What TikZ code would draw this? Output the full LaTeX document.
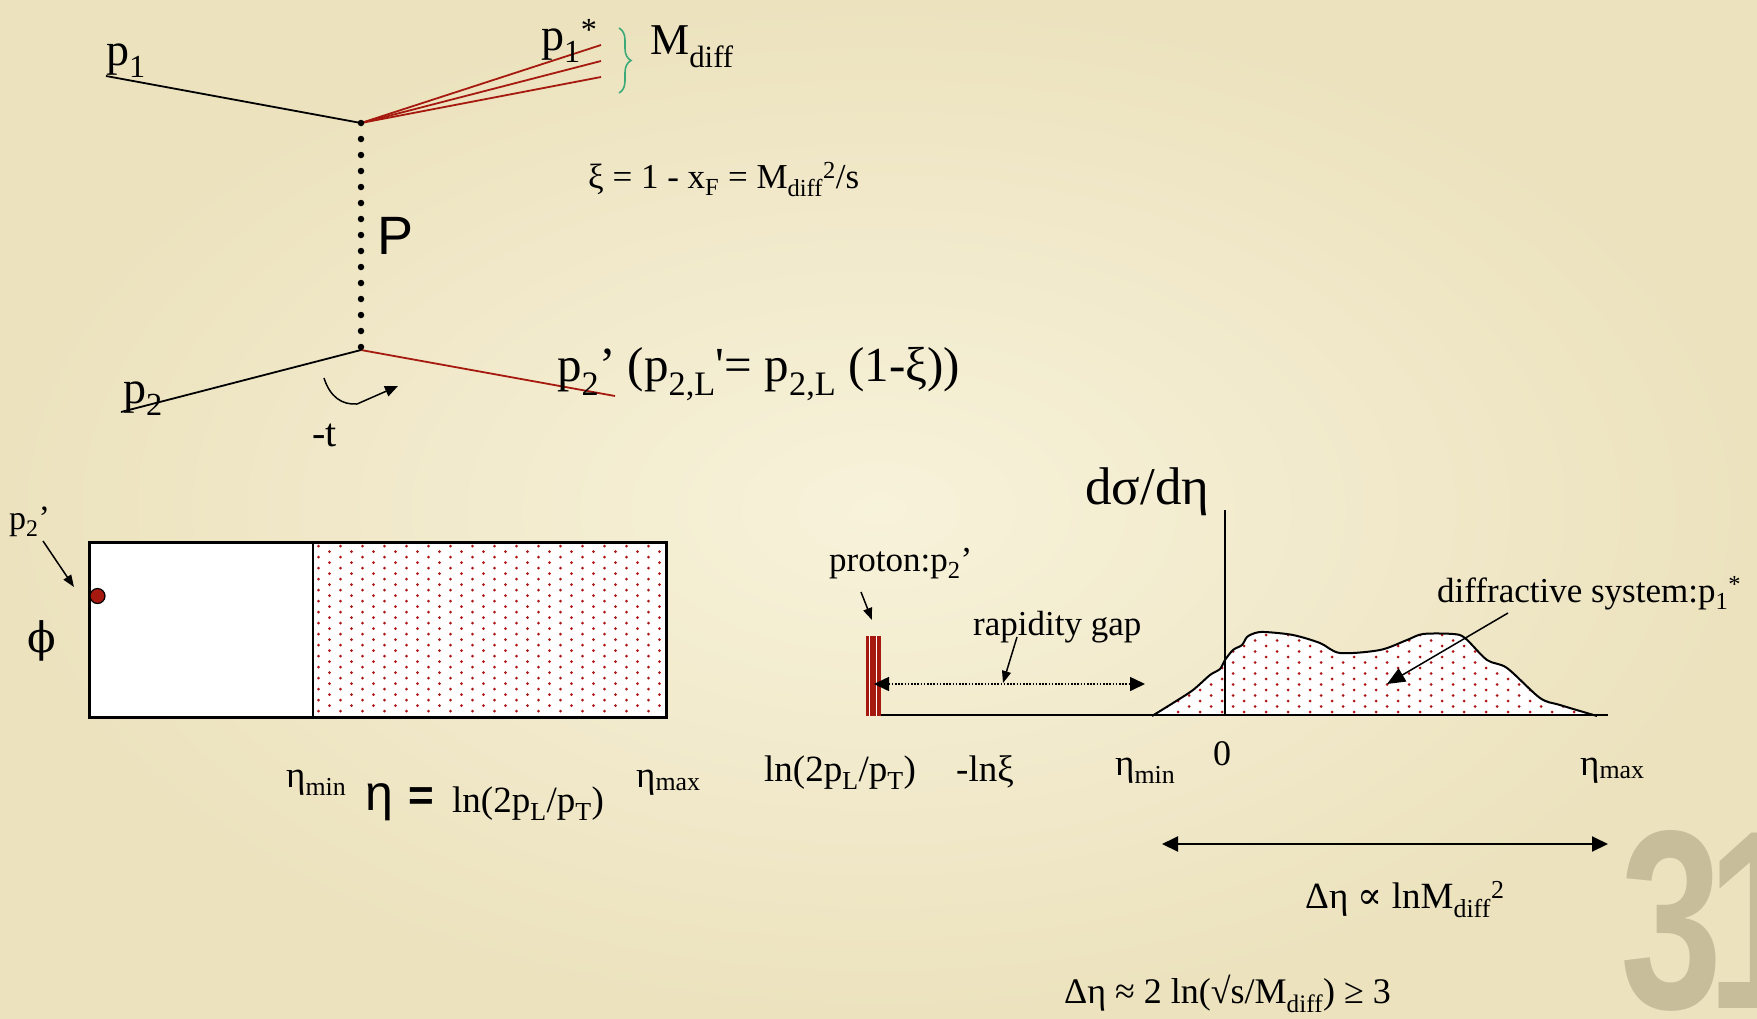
\documentclass[tikz,border=0pt]{standalone}
\usepackage{fontspec}
\setmainfont{Liberation Serif}
\newfontfamily\sansf{Liberation Sans}
\newfontfamily\dvs{DejaVu Serif}
\usetikzlibrary{arrows.meta,decorations.pathreplacing}
\definecolor{bgin}{RGB}{247,242,218}
\definecolor{bgout}{RGB}{236,226,190}
\definecolor{dred}{RGB}{165,25,15}
\definecolor{brgreen}{RGB}{60,170,120}
\definecolor{dotred}{RGB}{175,20,20}
\definecolor{numgrey}{RGB}{200,189,154}
\newcommand{\fs}[1]{\fontsize{#1}{#1}\selectfont}
\tikzset{
  lbl/.style={inner sep=0pt, anchor=base west},
  ln/.style={line width=1.8pt, black},
  rln/.style={line width=1.8pt, dred},
  smalltip/.style={-{Triangle[length=12pt,width=9pt]}},
}
\begin{document}
\begin{tikzpicture}[x=1pt,y=-1pt]
\useasboundingbox (0,0) rectangle (1757,1018);
\clip (0,0) rectangle (1757,1018);
\shade[inner color=bgin, outer color=bgout] (0,0) rectangle (1757,1018);

% ---------- slide number ----------
\node[anchor=base west, inner sep=0, xscale=0.72, text=numgrey] (slidenum) at (1620,1008) {\sansf\bfseries\fs{255}3\kern-0.08em 1};

% ---------- top diagram ----------
\coordinate (v1) at (361,123);
\coordinate (v2) at (361,350);
\coordinate (p1s) at (106,76);
\coordinate (p2s) at (121,412);
\coordinate (ra) at (601,45);
\coordinate (rb) at (601,61);
\coordinate (rc) at (601,77);
\coordinate (p2e) at (615,396);
\draw[ln] (p1s) -- (v1);
\draw[rln] (v1) -- (ra);
\draw[rln] (v1) -- (rb);
\draw[rln] (v1) -- (rc);
\draw[ln] (p2s) -- (v2);
\draw[rln] (v2) -- (p2e);
\draw[line width=6.5pt, dash pattern=on 0pt off 16pt, line cap=round] (v1) -- (v2);

\coordinate (brt) at (619,28);
\coordinate (brb) at (619,93);
\draw[brgreen, line width=1.6pt, decorate, decoration={brace, amplitude=12pt}] (brt) -- (brb);

\node[lbl] (p1lab) at (106,65) {\fs{46}p\textsubscript{1}};
\node[lbl] (p1star) at (541,50) {\fs{46}p\textsubscript{1}\textsuperscript{*}};
\node[lbl] (mdiff) at (650,54) {\fs{44}M\textsubscript{diff}};
\node[lbl] (xieq) at (588,188) {\fs{35}ξ = 1 - x\textsubscript{F} = M\textsubscript{diff}\textsuperscript{2}/s};
\node[lbl] (plab) at (377,254) {\sansf\fs{54}P};
\node[lbl] (p2lab) at (123,403) {\fs{46}p\textsubscript{2}};
\node[lbl] (p2plab) at (557,381) {\fs{49}p\textsubscript{2}’ (p\textsubscript{2,L}\textquotesingle= p\textsubscript{2,L} (1-ξ))};
\node[lbl] (tlab) at (312,446) {\fs{40}-t};

\coordinate (ts) at (324,378);
\coordinate (te) at (398,386);
\draw[line width=1.5pt, -{Triangle[length=13pt,width=11pt]}] (ts) .. controls (330,397) and (342,405) .. (357,404) -- (te);

% ---------- bottom-left box ----------
\node[draw, line width=2.6pt, fill=white, minimum width=577pt, minimum height=175pt, inner sep=0, anchor=north west] (etabox) at (88,541) {};
\begin{scope}
  \clip (314.5,542.5) rectangle (663.5,714.5);
  \foreach \i in {0,...,31} {
    \foreach \j in {0,...,15} {
      \pgfmathsetmacro\yy{546+11*\j+5.5*mod(\i,2)}
      \fill[dotred] ({318.5+11*\i},\yy) circle (1.5pt);
    }
  }
\end{scope}
\coordinate (divt) at (313,541);
\coordinate (divb) at (313,716);
\draw[line width=2pt] (divt) -- (divb);

\node[circle, draw=black, line width=1.2pt, fill=dred, minimum size=15pt, inner sep=0] (pdot) at (97.5,596) {};
\node[lbl] (p2small) at (9,529) {\fs{34}p\textsubscript{2}’};
\coordinate (a1s) at (43,541);
\coordinate (a1e) at (74,587);
\draw[line width=1.5pt, smalltip] (a1s) -- (a1e);
\node[inner sep=0] (philab) at (42,641) {\dvs\fs{42}ϕ};

\node[lbl] (etamin1) at (286,787) {\fs{37}η\textsubscript{min}};
\node[lbl] (bigeta) at (365,810) {\sansf\fs{50}η};
\node[lbl] (eqsign) at (408,810) {\sansf\bfseries\fs{44}=};
\node[lbl] (lnform) at (452,812) {\fs{37}ln(2p\textsubscript{L}/p\textsubscript{T})};
\node[lbl] (etamax1) at (636,787) {\fs{37}η\textsubscript{max}};

% ---------- right plot ----------
\begin{scope}
  \clip plot[smooth, tension=0.5] coordinates {(1152,716) (1173,703) (1193,690) (1210,675) (1220,669) (1225,660) (1233,650) (1242,645) (1247,637) (1255,633) (1265,632) (1293,635) (1320,643) (1340,653) (1380,650) (1407,640) (1423,634) (1453,634) (1465,638) (1487,660) (1507,668) (1540,698) (1560,705) (1597,716)} -- cycle;
  \fill[white] (1140,620) rectangle (1610,720);
  \foreach \i in {0,...,40} {
    \foreach \j in {0,...,8} {
      \pgfmathsetmacro\yy{712-11*\j-5.5*mod(\i,2)}
      \fill[dotred] ({1156+11*\i},\yy) circle (1.5pt);
    }
  }
\end{scope}
\draw[line width=2pt] plot[smooth, tension=0.5] coordinates {(1152,716) (1173,703) (1193,690) (1210,675) (1220,669) (1225,660) (1233,650) (1242,645) (1247,637) (1255,633) (1265,632) (1293,635) (1320,643) (1340,653) (1380,650) (1407,640) (1423,634) (1453,634) (1465,638) (1487,660) (1507,668) (1540,698) (1560,705) (1597,716)};

\coordinate (ax0) at (868,715);
\coordinate (ax1) at (1608,715);
\coordinate (vy0) at (1225,715);
\coordinate (vy1) at (1225,510);
\draw[line width=1.5pt] (vy0) -- (vy1);
\draw[line width=2.6pt] (ax0) -- (ax1);

% proton bars
\fill[dred] (865.5,636) rectangle (881,716);
\draw[white, line width=1pt] (869.4,636) -- (869.4,716);
\draw[white, line width=1.6pt] (876.6,636) -- (876.6,716);

\node[lbl] (dsig) at (1085,504) {\fs{53}dσ/dη};
\node[lbl] (protlab) at (829,571) {\fs{35}proton:p\textsubscript{2}’};
\coordinate (a2s) at (861,592);
\coordinate (a2e) at (872,620);
\draw[line width=1.5pt, smalltip] (a2s) -- (a2e);

\coordinate (gl) at (874,684);
\coordinate (gr) at (1145,684);
\draw[line width=1.6pt, dash pattern=on 1.6pt off 1.6pt, {Triangle[length=15pt,width=14pt]}-{Triangle[length=15pt,width=14pt]}] (gl) -- (gr);
\node[lbl] (rglab) at (973,635) {\fs{35}rapidity gap};
\coordinate (a3s) at (1017,637);
\coordinate (a3e) at (1003,683);
\draw[line width=1.5pt, smalltip] (a3s) -- (a3e);

\node[lbl] (difflab) at (1437,602) {\fs{35}diffractive system:p\textsubscript{1}\textsuperscript{*}};
\coordinate (a4s) at (1508,613);
\coordinate (a4e) at (1387,684);
\draw[line width=1.5pt, -{Triangle[length=18pt,width=15pt]}] (a4s) -- (a4e);

\node[lbl] (lnlab) at (764,781) {\fs{37}ln(2p\textsubscript{L}/p\textsubscript{T})};
\node[lbl] (mlnxi) at (956,781) {\fs{37}-lnξ};
\node[lbl] (etamin2) at (1115,775) {\fs{37}η\textsubscript{min}};
\node[lbl] (zero) at (1213,765) {\fs{36}0};
\node[lbl] (etamax2) at (1580,775) {\fs{37}η\textsubscript{max}};

\coordinate (dl) at (1162,844);
\coordinate (dr) at (1608,844);
\draw[line width=2pt, {Triangle[length=16pt,width=15pt]}-{Triangle[length=16pt,width=15pt]}] (dl) -- (dr);
\node[lbl] (dprop) at (1305,908) {\fs{37}Δη {\dvs ∝} lnM\textsubscript{diff}\textsuperscript{2}};
\node[lbl] (dapprox) at (1064,1003) {\fs{36}Δη ≈ 2 ln(√s/M\textsubscript{diff}) ≥ 3};
\end{tikzpicture}
\end{document}
